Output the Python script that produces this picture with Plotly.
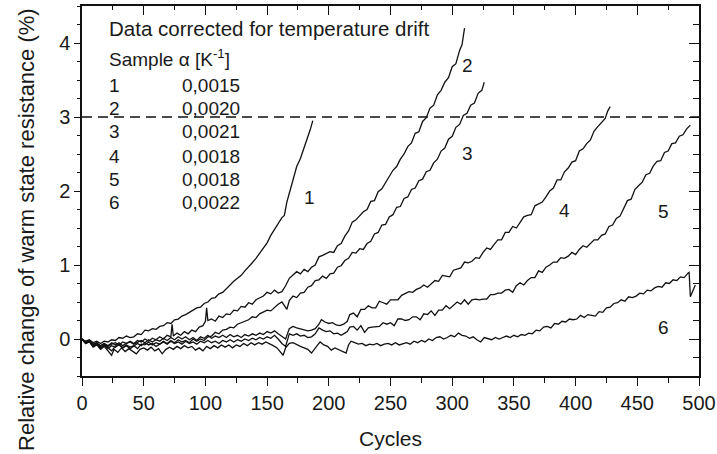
import plotly.graph_objects as go

# ---------------- data: (cycle, relative change %) ----------------
curve1 = [(0, 0.0), (3, -0.03), (6, -0.01), (9, -0.05), (12, -0.03), (15, -0.06), (18, -0.03),
          (21, -0.04), (24, -0.01), (27, -0.02), (30, 0.02), (33, 0.01), (36, 0.04), (39, 0.02),
          (42, 0.03), (45, 0.07), (48, 0.06), (51, 0.12), (54, 0.11), (57, 0.14), (60, 0.13),
          (63, 0.17), (66, 0.18), (69, 0.22), (72, 0.21), (75, 0.26), (78, 0.27), (81, 0.31),
          (84, 0.33), (87, 0.36), (90, 0.38), (93, 0.42), (96, 0.43), (99, 0.48), (102, 0.50),
          (105, 0.55), (108, 0.56), (111, 0.61), (114, 0.63), (117, 0.68), (120, 0.74), (123, 0.78),
          (126, 0.82), (129, 0.86), (132, 0.92), (135, 0.97), (138, 1.03), (141, 1.09), (144, 1.16),
          (147, 1.22), (150, 1.30), (153, 1.40), (156, 1.48), (159, 1.57), (162, 1.64), (164, 1.67),
          (166, 1.85), (168, 1.97), (170, 2.08), (172, 2.20), (174, 2.33), (177, 2.44), (180, 2.58),
          (183, 2.74), (185, 2.83), (187, 2.95)]

curve2 = [(0, 0.0), (3, -0.04), (6, -0.02), (9, -0.07), (12, -0.05), (15, -0.09), (18, -0.06),
          (21, -0.10), (24, -0.07), (27, -0.05), (30, -0.08), (33, -0.04), (36, -0.06), (39, -0.03),
          (42, -0.06), (45, -0.02), (48, -0.04), (51, 0.0), (54, -0.03), (57, 0.01), (60, -0.01),
          (63, 0.03), (66, 0.0), (69, 0.05), (72, 0.03), (73, 0.20), (74, 0.04), (77, 0.08),
          (80, 0.05), (83, 0.10), (86, 0.07), (89, 0.12), (92, 0.10), (95, 0.16), (98, 0.18),
          (100, 0.24), (101, 0.42), (102, 0.25), (105, 0.27), (108, 0.24), (111, 0.31), (114, 0.29),
          (117, 0.34), (120, 0.33), (123, 0.39), (126, 0.38), (129, 0.44), (132, 0.43), (135, 0.49),
          (138, 0.47), (141, 0.53), (144, 0.55), (147, 0.58), (150, 0.63), (153, 0.61), (156, 0.66),
          (159, 0.62), (162, 0.64), (165, 0.72), (168, 0.82), (171, 0.86), (174, 0.91), (177, 0.88),
          (180, 0.94), (183, 0.91), (186, 0.97), (189, 1.00), (192, 1.11), (195, 1.13), (198, 1.16),
          (201, 1.18), (204, 1.17), (207, 1.26), (210, 1.29), (213, 1.39), (216, 1.46), (219, 1.58),
          (222, 1.61), (225, 1.66), (228, 1.72), (231, 1.75), (234, 1.86), (237, 1.87), (240, 1.99),
          (243, 2.03), (246, 2.12), (249, 2.19), (252, 2.28), (255, 2.33), (258, 2.43), (261, 2.50),
          (264, 2.60), (267, 2.65), (270, 2.78), (273, 2.80), (276, 2.94), (279, 2.99), (282, 3.12),
          (285, 3.16), (288, 3.30), (291, 3.36), (294, 3.47), (297, 3.53), (300, 3.68), (303, 3.72),
          (306, 3.90), (308, 3.98), (310, 4.20)]

curve3 = [(0, 0.0), (3, -0.06), (6, -0.03), (9, -0.10), (12, -0.07), (15, -0.12), (18, -0.08),
          (21, -0.13), (24, -0.09), (27, -0.11), (30, -0.07), (33, -0.12), (36, -0.08), (39, -0.11),
          (42, -0.09), (45, -0.13), (48, -0.07), (51, -0.08), (54, -0.04), (57, -0.08), (60, -0.05),
          (63, -0.07), (66, -0.03), (69, -0.06), (72, -0.02), (75, -0.05), (78, -0.01), (81, -0.04),
          (84, -0.02), (87, -0.05), (90, 0.0), (93, -0.03), (96, 0.0), (99, -0.02), (102, 0.03),
          (105, 0.04), (108, 0.09), (111, 0.07), (114, 0.12), (117, 0.13), (120, 0.16), (123, 0.15),
          (126, 0.20), (129, 0.22), (132, 0.25), (135, 0.26), (138, 0.30), (141, 0.29), (144, 0.34),
          (147, 0.36), (150, 0.39), (153, 0.38), (156, 0.43), (159, 0.47), (162, 0.50), (164, 0.45),
          (166, 0.40), (168, 0.52), (171, 0.58), (174, 0.56), (177, 0.62), (180, 0.63), (183, 0.70),
          (186, 0.72), (189, 0.79), (192, 0.80), (195, 0.85), (198, 0.82), (201, 0.88), (204, 0.89),
          (207, 0.97), (210, 0.99), (213, 1.06), (216, 1.09), (219, 1.17), (222, 1.16), (225, 1.22),
          (228, 1.21), (231, 1.29), (234, 1.32), (237, 1.42), (240, 1.44), (243, 1.54), (246, 1.55),
          (249, 1.65), (252, 1.68), (255, 1.78), (258, 1.79), (261, 1.90), (264, 1.92), (267, 2.02),
          (270, 2.04), (273, 2.14), (276, 2.16), (279, 2.26), (282, 2.28), (285, 2.38), (288, 2.43),
          (291, 2.54), (294, 2.58), (297, 2.70), (300, 2.74), (303, 2.86), (306, 2.90), (309, 3.02),
          (312, 3.05), (315, 3.16), (318, 3.19), (321, 3.32), (324, 3.36), (326, 3.47)]

curve4 = [(0, 0.0), (3, -0.05), (6, -0.02), (9, -0.08), (12, -0.05), (15, -0.10), (18, -0.06),
          (21, -0.09), (24, -0.05), (27, -0.08), (30, -0.05), (33, -0.09), (36, -0.06), (39, -0.04),
          (42, -0.07), (45, -0.05), (48, -0.02), (51, -0.05), (54, -0.01), (57, -0.04), (60, -0.01),
          (63, -0.03), (66, 0.01), (69, -0.02), (72, 0.02), (75, -0.01), (78, 0.03), (81, 0.0),
          (84, 0.03), (87, -0.01), (90, 0.02), (93, -0.02), (96, 0.03), (99, 0.01), (102, 0.05),
          (105, 0.01), (108, 0.04), (111, 0.02), (114, 0.05), (117, 0.02), (120, 0.06), (123, 0.03),
          (126, 0.05), (129, 0.02), (132, 0.06), (135, 0.04), (138, 0.07), (141, 0.05), (144, 0.08),
          (147, 0.06), (150, 0.10), (153, 0.08), (156, 0.11), (159, 0.07), (162, 0.04), (165, 0.0),
          (168, 0.14), (171, 0.17), (174, 0.15), (177, 0.14), (180, 0.13), (183, 0.11), (186, 0.12),
          (189, 0.14), (192, 0.20), (194, 0.26), (197, 0.23), (200, 0.21), (203, 0.22), (206, 0.19),
          (209, 0.18), (212, 0.20), (215, 0.24), (217, 0.33), (220, 0.35), (223, 0.30), (226, 0.40),
          (229, 0.40), (232, 0.45), (235, 0.42), (238, 0.42), (241, 0.51), (244, 0.49), (247, 0.47),
          (250, 0.53), (253, 0.53), (256, 0.53), (259, 0.59), (262, 0.62), (265, 0.64), (268, 0.63),
          (271, 0.67), (274, 0.69), (277, 0.73), (280, 0.70), (283, 0.75), (286, 0.79), (289, 0.78),
          (292, 0.86), (295, 0.85), (298, 0.84), (301, 0.93), (304, 0.95), (307, 0.96), (310, 1.04),
          (313, 1.03), (316, 1.05), (319, 1.10), (322, 1.09), (325, 1.17), (328, 1.23), (331, 1.21),
          (334, 1.28), (337, 1.34), (340, 1.34), (343, 1.44), (346, 1.44), (349, 1.52), (352, 1.50),
          (355, 1.58), (358, 1.65), (361, 1.67), (364, 1.68), (367, 1.80), (370, 1.83), (373, 1.85),
          (376, 1.92), (379, 2.00), (382, 2.04), (385, 2.15), (388, 2.15), (391, 2.26), (394, 2.31),
          (397, 2.39), (400, 2.41), (403, 2.54), (406, 2.57), (409, 2.64), (412, 2.69), (415, 2.81),
          (418, 2.87), (421, 2.93), (424, 2.98), (426, 3.08), (428, 3.14)]

curve5 = [(0, 0.0), (3, -0.06), (6, -0.03), (9, -0.10), (12, -0.06), (15, -0.13), (18, -0.08),
          (21, -0.12), (24, -0.16), (27, -0.10), (30, -0.08), (33, -0.12), (36, -0.09), (39, -0.13),
          (42, -0.10), (45, -0.06), (48, -0.09), (51, -0.05), (54, -0.08), (57, -0.06), (60, -0.10),
          (63, -0.07), (66, -0.04), (69, -0.07), (72, -0.03), (75, -0.06), (78, -0.04), (81, -0.07),
          (84, -0.03), (87, -0.06), (90, -0.04), (93, -0.07), (96, -0.03), (99, -0.05), (102, -0.02),
          (105, -0.05), (108, -0.03), (111, -0.06), (114, -0.02), (117, -0.04), (120, -0.01),
          (123, -0.04), (126, -0.01), (129, -0.03), (132, 0.0), (135, -0.02), (138, 0.01),
          (141, -0.01), (144, 0.02), (147, 0.0), (150, 0.03), (153, 0.01), (156, 0.05), (159, 0.0),
          (162, -0.06), (165, -0.10), (168, 0.07), (171, 0.05), (174, 0.07), (177, 0.04), (180, 0.05),
          (183, 0.02), (186, 0.03), (189, 0.07), (192, 0.15), (195, 0.12), (198, 0.10), (201, 0.11),
          (204, 0.07), (207, 0.08), (210, 0.05), (213, 0.08), (215, 0.10), (217, 0.16), (220, 0.17),
          (223, 0.12), (226, 0.18), (229, 0.09), (232, 0.15), (235, 0.16), (238, 0.17), (241, 0.17),
          (244, 0.22), (247, 0.20), (250, 0.22), (253, 0.18), (256, 0.27), (259, 0.27), (262, 0.25),
          (265, 0.26), (268, 0.30), (271, 0.30), (274, 0.26), (277, 0.34), (280, 0.33), (283, 0.38),
          (286, 0.32), (289, 0.39), (292, 0.39), (295, 0.45), (298, 0.41), (301, 0.45), (304, 0.50),
          (307, 0.47), (310, 0.53), (313, 0.47), (316, 0.53), (319, 0.54), (322, 0.53), (325, 0.54),
          (328, 0.54), (331, 0.60), (334, 0.60), (337, 0.62), (340, 0.62), (343, 0.66), (346, 0.67),
          (349, 0.63), (352, 0.72), (355, 0.76), (358, 0.73), (361, 0.79), (364, 0.83), (367, 0.83),
          (370, 0.92), (373, 0.90), (376, 0.97), (379, 1.00), (382, 1.04), (385, 1.04), (388, 1.10),
          (391, 1.09), (394, 1.12), (397, 1.17), (400, 1.14), (403, 1.21), (406, 1.26), (409, 1.24),
          (412, 1.29), (415, 1.34), (418, 1.34), (421, 1.40), (424, 1.42), (427, 1.52), (430, 1.54),
          (433, 1.63), (436, 1.66), (439, 1.77), (442, 1.87), (445, 1.89), (448, 2.02), (451, 2.07),
          (454, 2.12), (457, 2.22), (460, 2.24), (463, 2.34), (466, 2.40), (469, 2.41), (472, 2.52),
          (475, 2.54), (478, 2.64), (481, 2.65), (484, 2.74), (487, 2.76), (490, 2.84), (493, 2.89)]

curve6 = [(0, 0.0), (3, -0.06), (6, -0.04), (9, -0.11), (12, -0.08), (15, -0.14), (18, -0.10),
          (21, -0.16), (24, -0.22), (26, -0.14), (29, -0.18), (32, -0.12), (35, -0.17), (38, -0.13),
          (41, -0.16), (44, -0.20), (47, -0.14), (50, -0.12), (53, -0.15), (56, -0.11), (59, -0.16),
          (62, -0.13), (65, -0.20), (68, -0.14), (71, -0.11), (74, -0.14), (77, -0.10), (80, -0.13),
          (83, -0.09), (86, -0.12), (89, -0.10), (92, -0.15), (95, -0.12), (98, -0.16), (101, -0.10),
          (104, -0.13), (107, -0.09), (110, -0.12), (113, -0.08), (116, -0.11), (119, -0.08),
          (122, -0.12), (125, -0.08), (128, -0.10), (131, -0.06), (134, -0.09), (137, -0.05),
          (140, -0.08), (143, -0.05), (146, -0.07), (149, -0.04), (152, -0.06), (155, -0.09),
          (158, -0.12), (161, -0.18), (163, -0.22), (165, -0.12), (168, -0.06), (171, -0.05),
          (174, -0.08), (177, -0.10), (180, -0.12), (183, -0.14), (186, -0.19), (188, -0.14),
          (191, -0.08), (193, -0.04), (196, -0.08), (199, -0.10), (202, -0.15), (205, -0.12),
          (208, -0.14), (211, -0.16), (214, -0.19), (216, -0.08), (218, -0.03), (221, -0.05),
          (224, -0.07), (227, -0.06), (230, -0.09), (233, -0.07), (236, -0.08), (239, -0.06),
          (242, -0.09), (245, -0.07), (248, -0.06), (251, -0.08), (254, -0.05), (257, -0.08),
          (260, -0.06), (263, -0.05), (266, -0.07), (269, -0.03), (272, -0.05), (275, -0.02),
          (278, -0.04), (281, 0.0), (284, -0.02), (287, 0.02), (290, 0.03), (293, 0.0), (296, 0.02),
          (299, 0.05), (302, 0.03), (305, 0.08), (308, 0.05), (311, 0.04), (314, 0.01), (317, 0.03),
          (320, -0.01), (323, -0.04), (326, 0.02), (329, 0.01), (332, -0.01), (335, 0.02), (338, 0.0),
          (341, 0.02), (344, 0.04), (347, 0.02), (350, 0.05), (353, 0.03), (356, 0.06), (359, 0.05),
          (362, 0.08), (365, 0.07), (368, 0.12), (371, 0.11), (374, 0.16), (377, 0.17), (380, 0.15),
          (383, 0.21), (386, 0.20), (389, 0.24), (392, 0.23), (395, 0.27), (398, 0.26), (401, 0.27),
          (404, 0.32), (407, 0.29), (410, 0.33), (413, 0.32), (416, 0.31), (419, 0.37), (422, 0.36),
          (425, 0.42), (428, 0.43), (431, 0.48), (434, 0.49), (437, 0.53), (440, 0.51), (443, 0.57),
          (446, 0.56), (449, 0.58), (452, 0.62), (455, 0.61), (458, 0.66), (461, 0.65), (464, 0.69),
          (467, 0.71), (470, 0.70), (473, 0.76), (476, 0.75), (479, 0.80), (482, 0.79), (485, 0.84),
          (488, 0.83), (491, 0.89), (492, 0.90), (493, 0.57), (495, 0.65), (497, 0.73)]

curves = [curve1, curve2, curve3, curve4, curve5, curve6]
curve_labels = ["1", "2", "3", "4", "5", "6"]
label_x = [184, 312, 312, 391, 471, 471]
label_y = [1.91, 3.70, 2.51, 1.74, 1.72, 0.16]

samples = ["1", "2", "3", "4", "5", "6"]
alphas = ["0,0015", "0,0020", "0,0021", "0,0018", "0,0018", "0,0022"]
threshold = 3

x_ticks = [0, 50, 100, 150, 200, 250, 300, 350, 400, 450, 500]
y_ticks = [0, 1, 2, 3, 4]

# ---------------- figure ----------------
FONT = "Liberation Sans, Arial, Helvetica, sans-serif"
TXT = "#1a1a1a"
LINE = "#111111"
fig = go.Figure()

for cv in curves:
    xs = [p[0] for p in cv]
    ys = [p[1] for p in cv]
    fig.add_trace(go.Scatter(x=xs, y=ys, mode="lines",
                             line=dict(color=LINE, width=1.3),
                             showlegend=False, hoverinfo="skip"))

fig.add_trace(go.Scatter(x=[0, 500], y=[threshold, threshold], mode="lines",
                         line=dict(color=LINE, width=1.5, dash="10px,6px"),
                         showlegend=False, hoverinfo="skip"))

ann = []
for t, x, y in zip(curve_labels, label_x, label_y):
    ann.append(dict(x=x, y=y, xref="x", yref="y", text=t, showarrow=False,
                    font=dict(family=FONT, size=19, color=TXT),
                    xanchor="center", yanchor="middle"))

ann.append(dict(x=20.3, y=4.19, xref="x", yref="y", text="Data corrected for temperature drift",
                showarrow=False, font=dict(family=FONT, size=20.5, color=TXT),
                xanchor="left", yanchor="middle"))
ann.append(dict(x=20.3, y=3.80, xref="x", yref="y", text="Sample \u03b1 [K<sup>-1</sup>]",
                showarrow=False, font=dict(family=FONT, size=19, color=TXT),
                xanchor="left", yanchor="middle"))
row_y = [3.43, 3.11, 2.80, 2.47, 2.16, 1.84]
for s, a, yy in zip(samples, alphas, row_y):
    ann.append(dict(x=20.3, y=yy, xref="x", yref="y", text=s, showarrow=False,
                    font=dict(family=FONT, size=19, color=TXT), xanchor="left", yanchor="middle"))
    ann.append(dict(x=79.4, y=yy, xref="x", yref="y", text=a, showarrow=False,
                    font=dict(family=FONT, size=19, color=TXT), xanchor="left", yanchor="middle"))

# axis titles
ann.append(dict(x=0.5, y=-0.168, xref="paper", yref="paper", text="Cycles", showarrow=False,
                font=dict(family=FONT, size=21, color=TXT), xanchor="center", yanchor="middle"))
ann.append(dict(x=-0.091, y=0.397, xref="paper", yref="paper",
                text="Relative change of warm state resistance (%)", showarrow=False,
                textangle=-90, font=dict(family=FONT, size=22, color=TXT),
                xanchor="center", yanchor="middle"))

axis_common = dict(showgrid=False, zeroline=False, showline=True, linecolor=LINE,
                   linewidth=1.5, tickcolor=LINE, tickwidth=1.3, automargin=False,
                   tickfont=dict(family=FONT, size=20, color=TXT))

fig.update_layout(
    width=717, height=454,
    margin=dict(l=82, r=18, t=6, b=78),
    paper_bgcolor="white", plot_bgcolor="white",
    annotations=ann,
    xaxis=dict(range=[0, 500], tickvals=x_ticks, ticks="outside", ticklen=8,
               minor=dict(dtick=25, tick0=0, ticks="outside", ticklen=5,
                          tickcolor=LINE, tickwidth=1.2),
               **axis_common),
    yaxis=dict(range=[-0.5, 4.5], tickvals=y_ticks, ticks="outside", ticklen=6,
               minor=dict(dtick=0.25, tick0=0, ticks="outside", ticklen=3,
                          tickcolor=LINE, tickwidth=1.2),
               **axis_common),
    xaxis2=dict(range=[0, 500], overlaying="x", side="top", tickvals=x_ticks,
                ticks="inside", ticklen=9, showticklabels=False,
                minor=dict(dtick=25, tick0=0, ticks="inside", ticklen=4,
                           tickcolor=LINE, tickwidth=1.2),
                **axis_common),
    yaxis2=dict(range=[-0.5, 4.5], overlaying="y", side="right", tickvals=y_ticks,
                ticks="inside", ticklen=10, showticklabels=False,
                minor=dict(dtick=0.25, tick0=0, ticks="inside", ticklen=6,
                           tickcolor=LINE, tickwidth=1.2),
                **axis_common),
)

# invisible trace to activate the mirrored axes
fig.add_trace(go.Scatter(x=[None], y=[None], xaxis="x2", yaxis="y2",
                         showlegend=False, hoverinfo="skip"))

fig.write_html("out.html", config={"displayModeBar": False},
               post_script="document.body.style.margin='0';")
